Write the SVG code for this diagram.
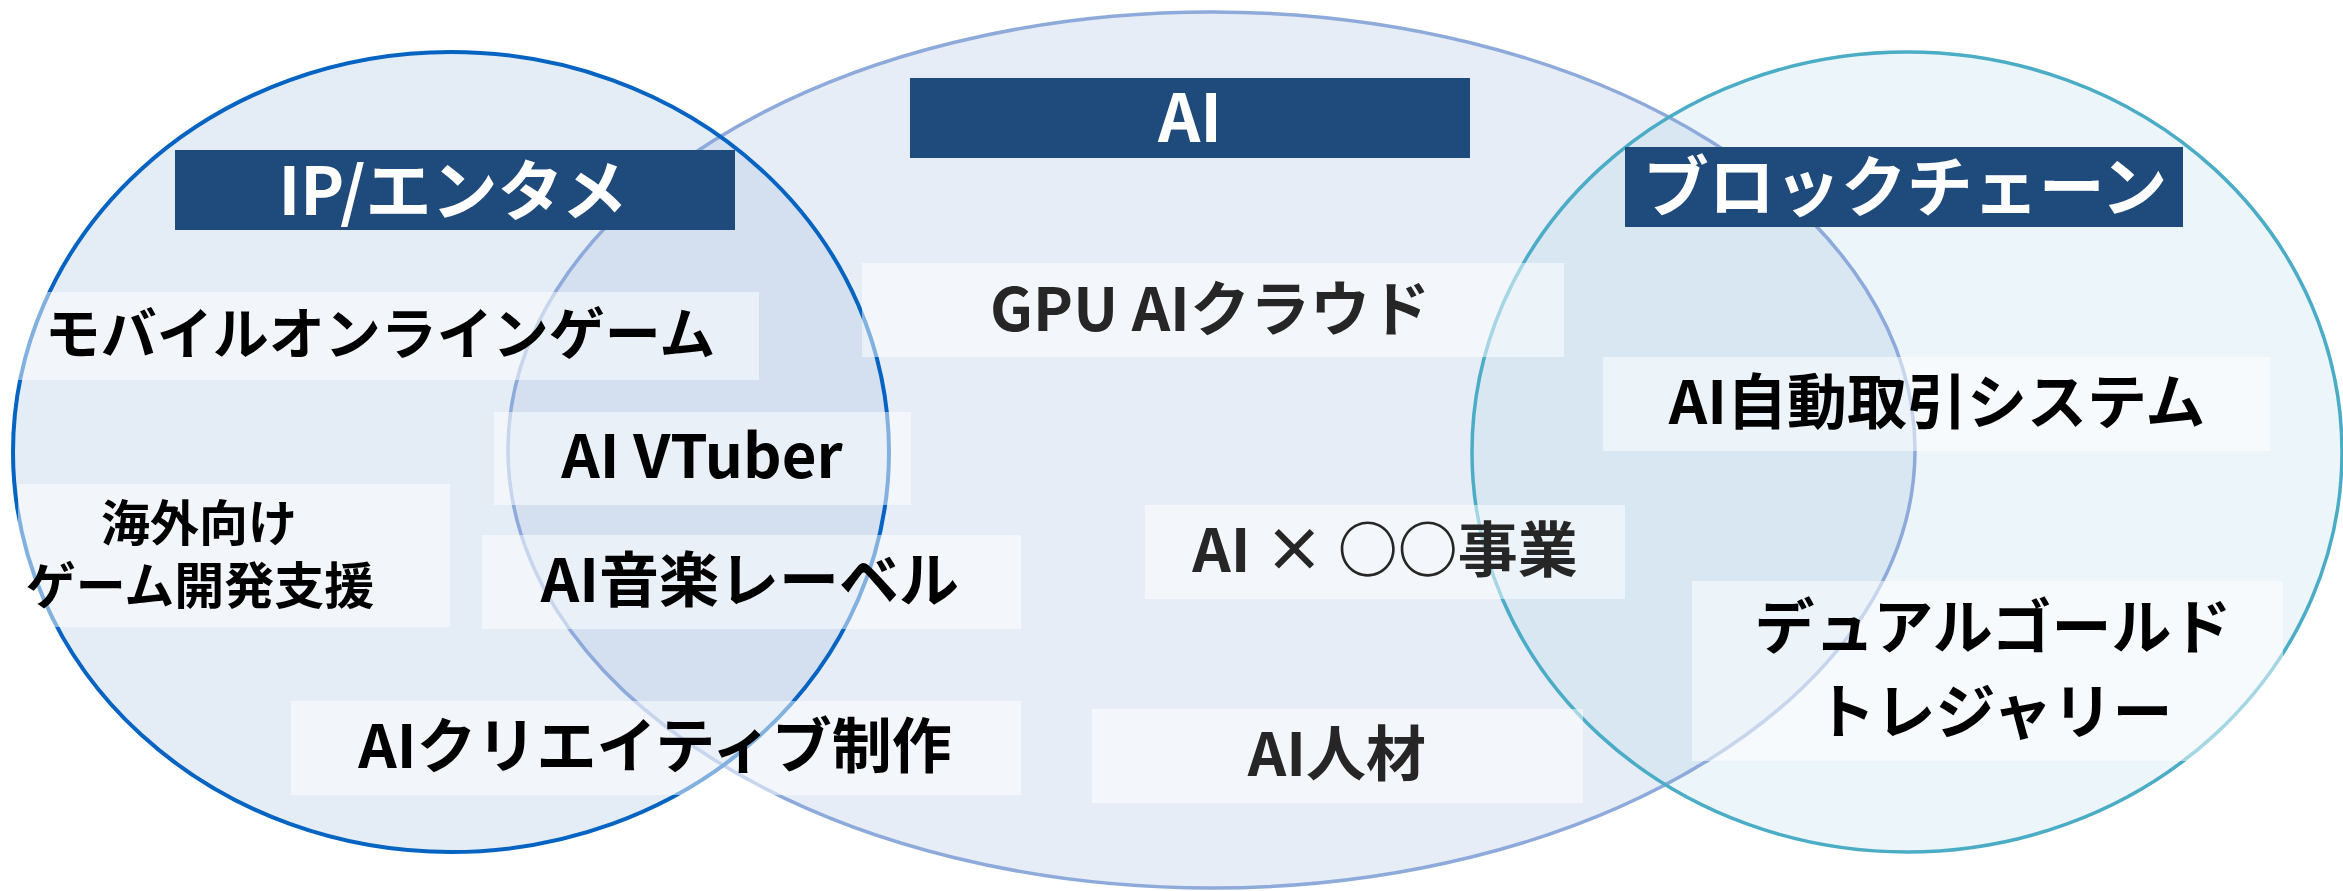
<svg xmlns="http://www.w3.org/2000/svg" width="2343" height="891" viewBox="0 0 2343 891">
<style>
.t{font-family:"Noto Sans CJK JP","Noto Sans",sans-serif;font-weight:700;text-anchor:middle}
.h{fill:#ffffff;font-size:66px}
.k{fill:#000000;font-size:60px}
.g{fill:#262626;font-size:60px}
.hb{fill:#1F4A7C}
.ib{fill:#ffffff;fill-opacity:0.5}
</style>
<rect width="2343" height="891" fill="#ffffff"/>
<g id="circles">
<ellipse id="fill-ip" cx="451" cy="452" rx="438" ry="400" fill="#E4ECF5"/>
<ellipse id="fill-ai" cx="1211.5" cy="450" rx="703.5" ry="438" fill="#B3C8E6" fill-opacity="0.33"/>
<ellipse id="fill-bc" cx="1907" cy="452" rx="435" ry="400" fill="#B4D8E8" fill-opacity="0.25"/>
<ellipse cx="1211.5" cy="450" rx="703.5" ry="438" fill="none" stroke="#8EAADB" stroke-width="3.5"/>
<ellipse cx="1907" cy="452" rx="435" ry="400" fill="none" stroke="#4BACC6" stroke-width="3.5"/>
<ellipse cx="451" cy="452" rx="438" ry="400" fill="none" stroke="#0563C1" stroke-width="4"/>
</g>
<g id="items-ip">
<g id="mobile"><rect class="ib" x="18" y="292" width="741" height="88"/><text class="t k" x="380" y="354" style="font-size:56px">モバイルオンラインゲーム</text></g>
<g id="overseas"><rect class="ib" x="18" y="484" width="432" height="143"/><text class="t k" x="199" y="541" style="font-size:49px">海外向け</text><text class="t k" x="200" y="604" style="font-size:50px">ゲーム開発支援</text></g>
</g>
<g id="items-ip-ai">
<g id="vtuber"><rect class="ib" x="494" y="412" width="417" height="93"/><text class="t k" x="702" y="478">AI VTuber</text></g>
<g id="music"><rect class="ib" x="482" y="535" width="539" height="94"/><text class="t k" x="750" y="602">AI音楽レーベル</text></g>
<g id="creative"><rect class="ib" x="291" y="701" width="730" height="94"/><text class="t k" x="655" y="768">AIクリエイティブ制作</text></g>
</g>
<g id="items-ai">
<g id="gpu"><rect class="ib" x="862" y="263" width="702" height="94"/><text class="t g" x="1210" y="331">GPU AIクラウド</text></g>
<g id="aix"><rect class="ib" x="1145" y="505" width="480" height="94"/><text class="t g" x="1385" y="572">AI × ○○事業</text></g>
<g id="talent"><rect class="ib" x="1092" y="709" width="491" height="94"/><text class="t g" x="1337" y="776">AI人材</text></g>
</g>
<g id="items-bc">
<g id="trading"><rect class="ib" x="1603" y="357" width="667" height="94"/><text class="t k" x="1937" y="424">AI自動取引システム</text></g>
<g id="dualgold"><rect class="ib" x="1692" y="581" width="591" height="180"/><text class="t k" x="1993" y="649">デュアルゴールド</text><text class="t k" x="1994" y="734">トレジャリー</text></g>
</g>
<g id="headers">
<g id="h-ip"><rect class="hb" x="175" y="150" width="560" height="80"/><text class="t h" x="453" y="215">IP/エンタメ</text></g>
<g id="h-ai"><rect class="hb" x="910" y="78" width="560" height="80"/><text class="t h" x="1190" y="142">AI</text></g>
<g id="h-bc"><rect class="hb" x="1625" y="147" width="558" height="80"/><text class="t h" x="1905" y="211">ブロックチェーン</text></g>
</g>
</svg>
